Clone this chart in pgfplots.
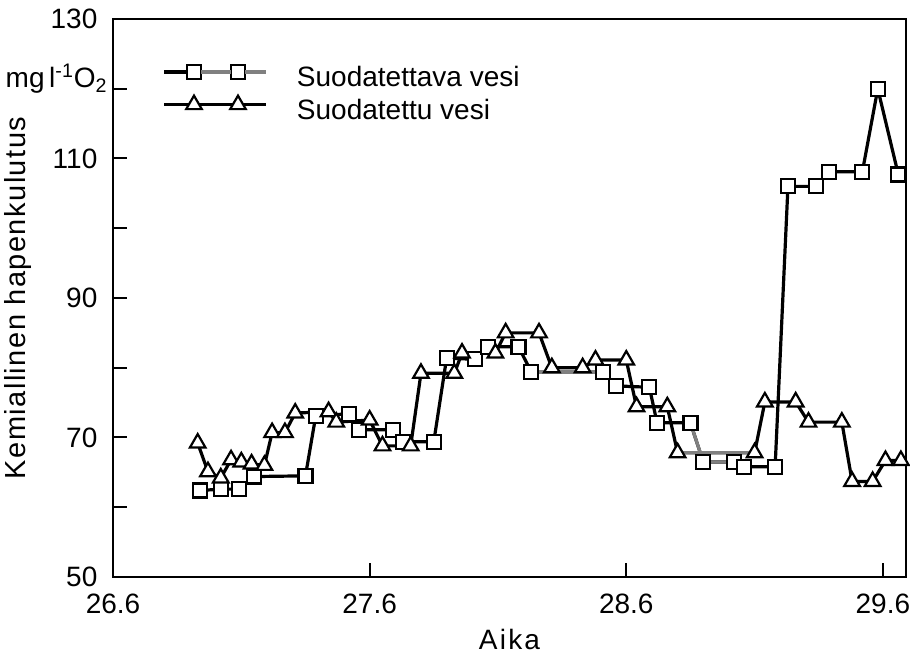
\documentclass[border=0pt]{standalone}
\usepackage{fontspec}
\setmainfont{Liberation Sans}
\usepackage{pgfplots}
\usepackage{pgfplotstable}
\pgfplotsset{compat=1.18}

% Suodatettava vesi (squares)
\pgfplotstableread{
x y
26.94 62.4
27.02 62.6
27.09 62.6
27.15 64.4
27.35 64.5
27.39 73.1
27.52 73.4
27.56 71.1
27.69 71.1
27.73 69.4
27.85 69.4
27.90 81.4
28.01 81.2
28.06 83.0
28.18 83.0
28.23 79.4
28.51 79.4
28.56 77.4
28.69 77.2
28.72 72.1
28.85 72.1
28.90 66.5
29.02 66.5
29.06 65.8
29.18 65.8
29.23 106.0
29.34 106.0
29.39 108.1
29.52 108.1
29.58 120.0
29.66 107.7
}\sq

% Suodatettu vesi (triangles)
\pgfplotstableread{
x y
26.93 69.2
26.97 65.1
27.02 64.2
27.06 66.8
27.10 66.5
27.14 66.2
27.19 66.0
27.22 70.7
27.27 70.7
27.31 73.5
27.44 73.7
27.47 72.2
27.60 72.5
27.65 68.8
27.76 68.8
27.80 79.2
27.93 79.2
27.96 82.1
28.09 82.1
28.13 85.0
28.26 85.0
28.31 80.0
28.43 80.0
28.48 81.1
28.60 81.1
28.64 74.4
28.76 74.4
28.80 67.8
29.10 67.8
29.14 75.1
29.26 75.1
29.31 72.2
29.44 72.2
29.48 63.7
29.56 63.7
29.61 66.7
29.67 66.7
}\tr

\newcommand\txt{\fontsize{14}{16}\selectfont}

\begin{document}
\begin{tikzpicture}
\useasboundingbox (-56.5pt,-39.5pt) rectangle (398.5pt,288.5pt);
\begin{axis}[
  at={(0,0)}, anchor=south west,
  scale only axis, width=396.5pt, height=279pt,
  xmin=26.6, xmax=29.69, ymin=50, ymax=130,
  xtick={26.6,27.6,28.6,29.6}, xticklabels={26.6,27.6,28.6,29.6},
  ytick={50,70,90,110,130}, minor ytick={60,80,100,120},
  xtick pos=lower, ytick pos=left,
  tick align=inside, major tick length=7pt, minor tick length=7pt,
  axis line style={line width=1.2pt},
  tick style={line width=1pt, black},
  clip=false,
  /pgf/number format/assume math mode=true,
  tick label style={font=\txt},
  xticklabel style={yshift=-5pt},
  yticklabel style={xshift=-4.3pt},
  xlabel={Aika},
  xlabel style={font=\txt\addfontfeature{LetterSpace=8}, at={(axis description cs:0.5,0)}, anchor=base, yshift=-36.5pt},
  ylabel={Kemiallinen hapenkulutus},
  ylabel style={font=\fontsize{14.5}{16}\selectfont\addfontfeature{LetterSpace=5}, at={(axis description cs:0,0.5)}, anchor=center, yshift=47.5pt},
  legend style={draw=none, fill=none, inner sep=0pt, font=\txt,
    at={(axis description cs:0,1)}, anchor=north west, xshift=24.5pt, yshift=-22.8pt,
    row sep=2.5pt, nodes={inner ysep=0.5pt, inner xsep=0pt}},
  legend cell align=left,
]
% lines
\addplot[black, line width=1.6pt, forget plot] table[x=x,y=y]{\sq};
\addplot[black, line width=1.6pt, forget plot] table[x=x,y=y]{\tr};
% grey (faint) segments of the original
\addplot[gray, line width=1.6pt, forget plot] coordinates {(28.23,79.4) (28.51,79.4)};
\addplot[gray, line width=1.6pt, forget plot] coordinates {(28.85,72.1) (28.90,66.5) (29.02,66.5)};
\addplot[gray, line width=1.6pt, forget plot] coordinates {(28.80,67.8) (29.10,67.8)};
% marks
\addplot[only marks, mark=square*, mark size=3.5pt,
  mark options={fill=white, draw=black, line width=1.1pt}, forget plot] table[x=x,y=y]{\sq};
\addplot[only marks, mark=triangle*, mark size=4.5pt,
  mark options={fill=white, draw=black, line width=1.1pt}, forget plot] table[x=x,y=y]{\tr};

\addlegendimage{legend image code/.code={
  \draw[black, line width=1.6pt, mark=square*, mark indices={2,3}, mark size=3.5pt,
    mark options={fill=white, draw=black, line width=1.1pt}]
    plot coordinates {(0pt,3pt) (15pt,3pt) (37pt,3pt) (51pt,3pt)};
  \draw[gray, line width=1.6pt] (18.5pt,3pt) -- (33.5pt,3pt);
  \draw[gray, line width=1.6pt] (40.5pt,3pt) -- (51pt,3pt);
  \path[draw=none, fill=none] (0pt,3pt) -- (66.5pt,3pt);
}}
\addlegendentry{Suodatettava vesi}
\addlegendimage{legend image code/.code={
  \draw[black, line width=1.6pt, mark=triangle*, mark indices={2,3}, mark size=4.5pt,
    mark options={fill=white, draw=black, line width=1.1pt}]
    plot coordinates {(0pt,3pt) (15pt,3pt) (37pt,3pt) (51pt,3pt)};
  \path[draw=none, fill=none] (0pt,3pt) -- (66.5pt,3pt);
}}
\addlegendentry{Suodatettu vesi}

\node[anchor=base east, inner sep=0pt, font=\txt] at ([xshift=-2.5pt,yshift=0.5pt]axis cs:26.6,120)
  {mg\,l\textsuperscript{-1}O\textsubscript{2}};
\end{axis}
\end{tikzpicture}
\end{document}
